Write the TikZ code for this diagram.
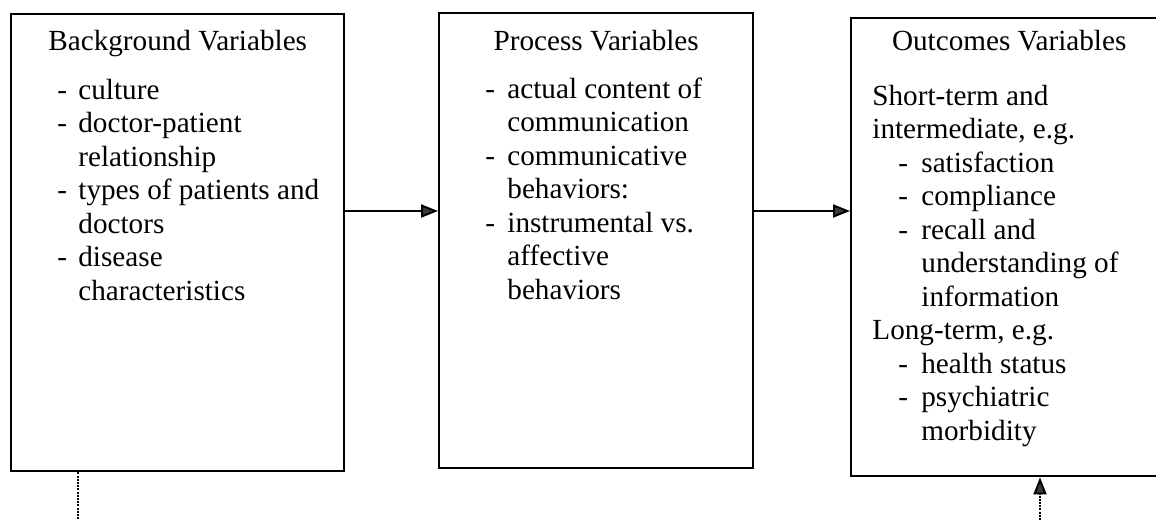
\documentclass[tikz,border=0pt]{standalone}
\usepackage{fontspec}
\setmainfont{Liberation Serif}
\usepackage{array}
\usetikzlibrary{arrows.meta,positioning}
\definecolor{TipGray}{RGB}{60,60,60}
\newcommand{\boxfont}{\fontsize{14.6}{16.75}\selectfont}

\begin{document}
\begin{tikzpicture}[x=0.5pt,y=-0.5pt,font=\boxfont,
  varbox/.style={draw,line width=1.2pt,inner sep=0pt,anchor=north west},
  heading/.style={anchor=base,inner sep=0pt},
  items/.style={anchor=base west,inner sep=0pt},
  flow/.style={line width=1pt,-{Triangle[length=8.5pt,width=6.5pt,fill=TipGray]}},
  link/.style={line width=1pt,dash pattern=on 1pt off 0.6pt}]
\useasboundingbox (0,0) rectangle (1156,520);
\clip (0,0) rectangle (1156,520);
% the three boxes
\node[varbox,minimum width=166.5pt,minimum height=228.5pt] (bg) at (10,13) {};
\node[varbox,minimum width=157pt,minimum height=227.5pt] (proc) at (438,12) {};
\node[varbox,minimum width=158pt,minimum height=229pt] (out) at (850,17) {};
% headings
\node[heading] (bgt) at ([shift={(0,37)}]bg.north) {Background Variables};
\node[heading] (proct) at ([shift={(0,38)}]proc.north) {Process Variables};
\node[heading] (outt) at ([shift={(0,33)}]out.north) {Outcomes Variables};
% lists
\node[items] (bgl) at ([shift={(47,86)}]bg.north west) {\begin{tabular}[t]{@{}p{10.5pt}@{}l@{}}
-&culture\\ -&doctor-patient\\ &relationship\\ -&types of patients and\\ &doctors\\ -&disease\\ &characteristics\end{tabular}};
\node[items] (procl) at ([shift={(47,86)}]proc.north west) {\begin{tabular}[t]{@{}p{11pt}@{}l@{}}
-&actual content of\\ &communication\\ -&communicative\\ &behaviors:\\ -&instrumental vs.\\ &affective\\ &behaviors\end{tabular}};
\node[items] (outl) at ([shift={(22,88)}]out.north west) {\begin{tabular}[t]{@{}p{13pt}@{}p{11.5pt}@{}l@{}}
\multicolumn{3}{@{}l@{}}{Short-term and}\\ \multicolumn{3}{@{}l@{}}{intermediate, e.g.}\\
&-&satisfaction\\ &-&compliance\\ &-&recall and\\ &&understanding of\\ &&information\\
\multicolumn{3}{@{}l@{}}{Long-term, e.g.}\\ &-&health status\\ &-&psychiatric\\ &&morbidity\end{tabular}};
% connectors
\coordinate (lvl) at (0,211);
\draw[flow] (bg.east |- lvl) -- (proc.west |- lvl);
\draw[flow] (proc.east |- lvl) -- (out.west |- lvl);
\coordinate (bgfoot) at (78,520);
\coordinate (outfoot) at (1040,520);
\draw[link] (bg.south -| bgfoot) -- (bgfoot);
\draw[link,-{Triangle[length=8.5pt,width=6.5pt,fill=TipGray]}] (outfoot) -- (out.south -| outfoot);
\end{tikzpicture}
\end{document}
